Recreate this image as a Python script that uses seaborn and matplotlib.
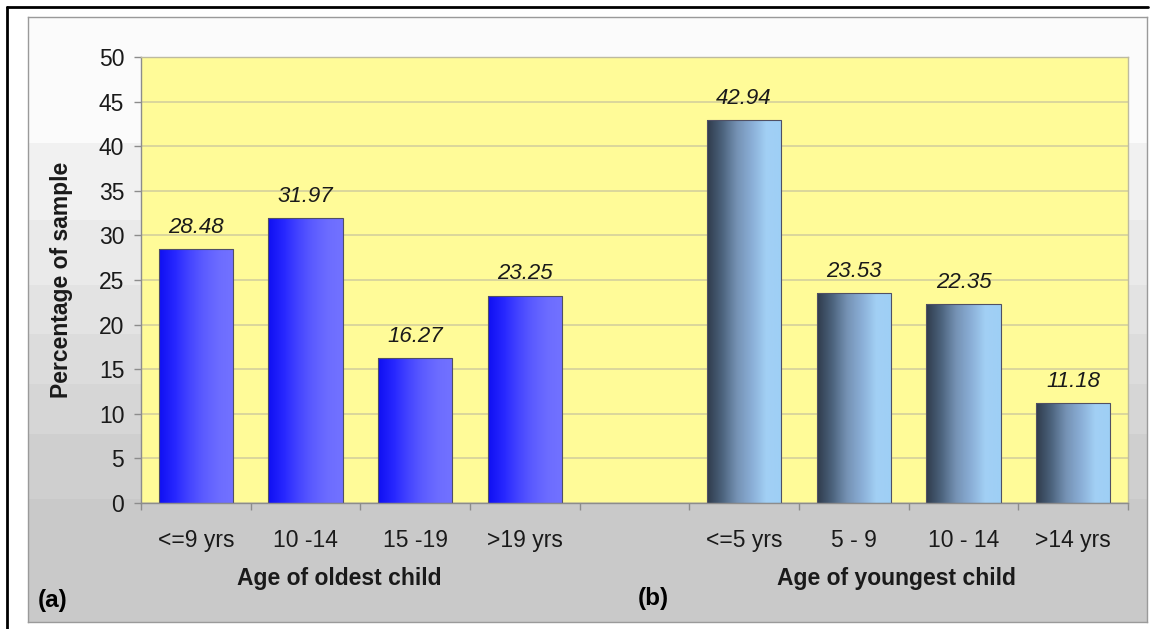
import numpy as np
import pandas as pd
import matplotlib
matplotlib.use('Agg')
import matplotlib.pyplot as plt
import seaborn as sns
from matplotlib.colors import LinearSegmentedColormap, to_rgb
from matplotlib.lines import Line2D

# data
oldest_labels=['<=9 yrs','10 -14','15 -19','>19 yrs']
oldest_values=[28.48,31.97,16.27,23.25]
youngest_labels=['<=5 yrs','5 - 9','10 - 14','>14 yrs']
youngest_values=[42.94,23.53,22.35,11.18]
gap_label=' '
yticks=list(range(0,55,5))

df=pd.DataFrame({'category':oldest_labels+youngest_labels,
                 'percent':oldest_values+youngest_values,
                 'group':['a']*len(oldest_labels)+['b']*len(youngest_labels)})
order=oldest_labels+[gap_label]+youngest_labels

sns.set_theme(style='white')
plt.rcParams['font.family']=['Liberation Sans','DejaVu Sans']

W,H=1156,629
fig=plt.figure(figsize=(W/100,H/100),dpi=100)
fig.patch.set_facecolor('white')

# grey stepped panel behind the chart
bg=fig.add_axes([28/W,1-622/H,(1147-28)/W,(622-17)/H],zorder=0)
band_edges=[0,126,203,268,318,368,418,483,606]
band_cols=['#fbfbfb','#f1f1f1','#eaeaea','#e3e3e3','#dcdcdc','#d6d6d6','#cfcfcf','#c9c9c9']
rows=np.zeros((band_edges[-1],1,3))
for i,c in enumerate(band_cols):
    rows[band_edges[i]:band_edges[i+1],0,:]=to_rgb(c)
bg.imshow(rows,aspect='auto',extent=[0,1,0,1],interpolation='nearest')
bg.set_xticks([]); bg.set_yticks([])
for s in bg.spines.values():
    s.set_color('#9a9a9a'); s.set_linewidth(1)

# main plot area
ax=fig.add_axes([141/W,1-503/H,987/W,446/H],zorder=1)
ax.set_facecolor('#fffb98')
sns.barplot(data=df,x='category',y='percent',hue='group',order=order,dodge=False,
            width=0.675,palette=['#3030ff','#7090b0'],saturation=1,legend=False,
            edgecolor='#505064',linewidth=0.8,ax=ax)

cmaps=[LinearSegmentedColormap.from_list('old',['#1010f2','#2626ff','#4444ff','#5c5cff','#6c6cff','#7272ff']),
       LinearSegmentedColormap.from_list('young',['#303c4d','#4c637d','#7592b4','#8aaed6','#a2d0f5','#9ecff5'])]
grad=np.linspace(0,1,64).reshape(1,-1)
for cont,cm in zip(ax.containers,cmaps):
    for bar in cont:
        x0,y0=bar.get_x(),bar.get_y()
        w,h=bar.get_width(),bar.get_height()
        im=ax.imshow(grad,cmap=cm,extent=[x0,x0+w,y0,y0+h],aspect='auto',
                     zorder=bar.get_zorder()+0.1,interpolation='bicubic')
        im.set_clip_path(bar)
        bar.set_facecolor('none')
        bar.set_zorder(bar.get_zorder()+0.2)
    ax.bar_label(cont,fmt='%.2f',padding=8,fontsize=16,fontstyle='italic',color='#1a1a1a')

ax.set_xlim(-0.5,len(order)-0.5)
ax.set_ylim(0,50)
ax.set_yticks(yticks)
ax.yaxis.grid(True,color='#d8d49c',linewidth=1.3)
ax.set_axisbelow(True)
ax.set_xticks(np.arange(-0.5,len(order),1),minor=True)
ax.tick_params(axis='x',which='major',length=0,pad=19,labelsize=16.5,labelcolor='#1a1a1a')
ax.tick_params(axis='x',which='minor',length=5,width=1,color='#8c8c8c',direction='out',bottom=True)
ax.tick_params(axis='y',length=5,width=1,color='#8c8c8c',direction='out',left=True,pad=7,
               labelsize=16.5,labelcolor='#1a1a1a')
for side in ['left','bottom']:
    ax.spines[side].set_color('#8c8c8c'); ax.spines[side].set_linewidth(1)
for side in ['top','right']:
    ax.spines[side].set_color('#bdbaa0'); ax.spines[side].set_linewidth(1)
ax.set_xlabel('')
ax.set_ylabel('Percentage of sample',fontsize=16.5,fontweight='bold',color='#1a1a1a')
ax.yaxis.set_label_coords((73-141)/987,0.5)

fig.text(339/W,1-578/H,'Age of oldest child',fontsize=16.5,fontweight='bold',ha='center',va='center',color='#1a1a1a')
fig.text(896/W,1-578/H,'Age of youngest child',fontsize=16.5,fontweight='bold',ha='center',va='center',color='#1a1a1a')
fig.text(38/W,1-601/H,'(a)',fontsize=17.5,fontweight='bold',ha='left',va='center',color='black')
fig.text(638/W,1-599/H,'(b)',fontsize=17.5,fontweight='bold',ha='left',va='center',color='black')

# black frame round the figure
fig.add_artist(Line2D([7/W,1148/W],[1-7/H,1-7/H],color='black',linewidth=2))
fig.add_artist(Line2D([7/W,7/W],[1-7/H,0],color='black',linewidth=2))

fig.savefig('out.png',dpi=100)
